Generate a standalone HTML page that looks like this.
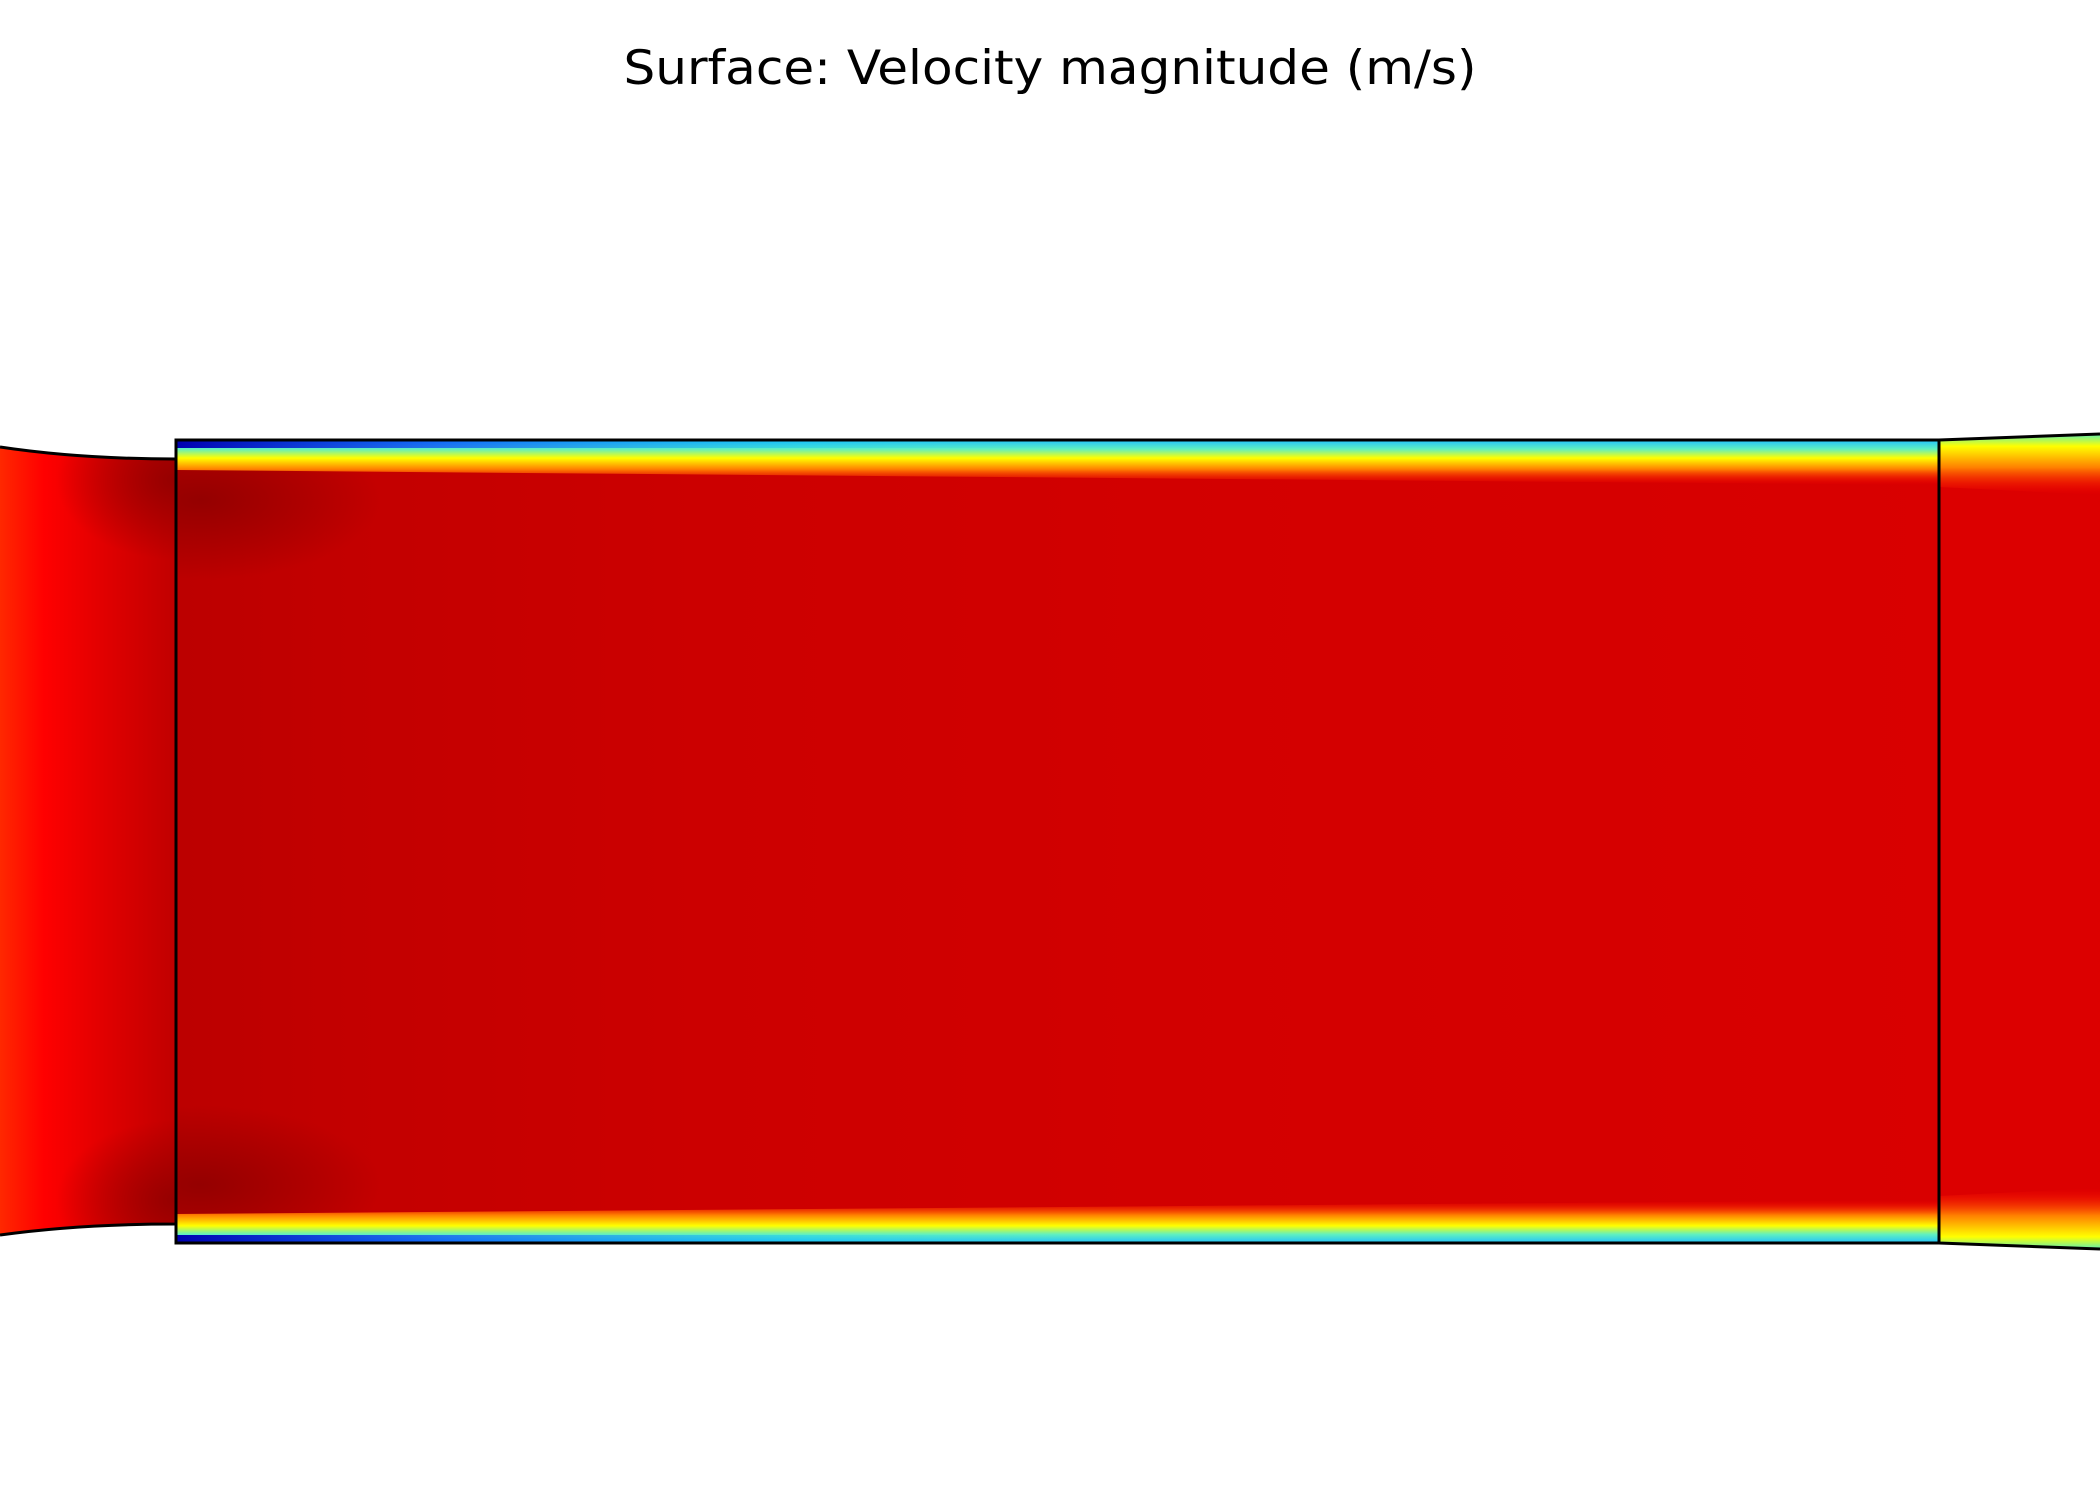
<!DOCTYPE html>
<html><head><meta charset="utf-8"><style>
html,body{margin:0;padding:0;background:#fff;width:2100px;height:1500px;overflow:hidden}
</style></head><body>
<svg width="2100" height="1500" viewBox="0 0 2100 1500" xmlns="http://www.w3.org/2000/svg">
<defs>
  <clipPath id="inletClip"><path d="M0,447 Q80,459 176,459 L176,1224 Q80,1224 0,1235 Z"/></clipPath>
  <clipPath id="mainClip"><rect x="176" y="440" width="1763" height="803"/></clipPath>
  <linearGradient id="mainH" x1="0" y1="0" x2="1" y2="0">
    <stop offset="0" stop-color="#bc0000"/>
    <stop offset="0.1" stop-color="#c30000"/>
    <stop offset="0.3" stop-color="#cc0000"/>
    <stop offset="0.6" stop-color="#d30000"/>
    <stop offset="1" stop-color="#d90000"/>
  </linearGradient>
  <linearGradient id="inletH" x1="0" y1="0" x2="1" y2="0">
    <stop offset="0" stop-color="#ff2800"/>
    <stop offset="0.25" stop-color="#ff0000"/>
    <stop offset="0.6" stop-color="#e00000"/>
    <stop offset="1" stop-color="#c00000"/>
  </linearGradient>
  <linearGradient id="blueFade" x1="0" y1="0" x2="1" y2="0">
    <stop offset="0" stop-color="#0000b0" stop-opacity="1"/>
    <stop offset="0.3" stop-color="#0030ff" stop-opacity="0.6"/>
    <stop offset="0.7" stop-color="#00c0ff" stop-opacity="0.3"/>
    <stop offset="1" stop-color="#40e0d0" stop-opacity="0"/>
  </linearGradient>
  <linearGradient id="topBL" x1="0" y1="0" x2="0" y2="1">
    <stop offset="0" stop-color="#20c0ff"/>
    <stop offset="0.2" stop-color="#60f0c0"/>
    <stop offset="0.4" stop-color="#ffff00"/>
    <stop offset="0.65" stop-color="#ff8000"/>
    <stop offset="1" stop-color="#ff0000" stop-opacity="0"/>
  </linearGradient>
  <linearGradient id="botBL" x1="0" y1="1" x2="0" y2="0">
    <stop offset="0" stop-color="#20c0ff"/>
    <stop offset="0.2" stop-color="#60f0c0"/>
    <stop offset="0.4" stop-color="#ffff00"/>
    <stop offset="0.65" stop-color="#ff8000"/>
    <stop offset="1" stop-color="#ff0000" stop-opacity="0"/>
  </linearGradient>
  <linearGradient id="topOut" x1="0" y1="0" x2="0" y2="1">
    <stop offset="0" stop-color="#60f0b0"/>
    <stop offset="0.2" stop-color="#ffff00"/>
    <stop offset="0.55" stop-color="#ff8000"/>
    <stop offset="1" stop-color="#ff0000" stop-opacity="0"/>
  </linearGradient>
  <linearGradient id="botOut" x1="0" y1="1" x2="0" y2="0">
    <stop offset="0" stop-color="#60f0b0"/>
    <stop offset="0.2" stop-color="#ffff00"/>
    <stop offset="0.55" stop-color="#ff8000"/>
    <stop offset="1" stop-color="#ff0000" stop-opacity="0"/>
  </linearGradient>
  <radialGradient id="darkSpot" cx="0.5" cy="0.5" r="0.5">
    <stop offset="0" stop-color="#900000" stop-opacity="0.9"/>
    <stop offset="1" stop-color="#900000" stop-opacity="0"/>
  </radialGradient>
</defs>

<text x="1050" y="84" text-anchor="middle" font-family="DejaVu Sans, sans-serif" font-size="47" textLength="853" lengthAdjust="spacingAndGlyphs" fill="#000">Surface: Velocity magnitude (m/s)</text>

<g>
  <g clip-path="url(#inletClip)">
    <rect x="0" y="440" width="176" height="800" fill="url(#inletH)"/>
    <ellipse cx="176" cy="480" rx="120" ry="80" fill="url(#darkSpot)"/>
    <ellipse cx="176" cy="1200" rx="120" ry="80" fill="url(#darkSpot)"/>
  </g>
  <path d="M0,447 Q80,459 176,459 L176,1224 Q80,1224 0,1235" fill="none" stroke="#000" stroke-width="3"/>
</g>

<g>
  <g clip-path="url(#mainClip)">
    <rect x="176" y="440" width="1763" height="803" fill="url(#mainH)"/>
    <ellipse cx="200" cy="500" rx="180" ry="80" fill="url(#darkSpot)"/>
    <ellipse cx="200" cy="1185" rx="180" ry="80" fill="url(#darkSpot)"/>
    <path d="M176,440 L1939,440 L1939,485 L176,470 Z" fill="url(#topBL)"/>
    <path d="M176,1243 L1939,1243 L1939,1200 L176,1214 Z" fill="url(#botBL)"/>
    <rect x="176" y="440" width="900" height="8" fill="url(#blueFade)"/>
    <rect x="176" y="1235" width="900" height="8" fill="url(#blueFade)"/>
  </g>
  <rect x="176" y="440" width="1763" height="803" fill="none" stroke="#000" stroke-width="3"/>
</g>

<g>
  <path d="M1939,440 L2100,434 L2100,1249 L1939,1243 Z" fill="#dc0000"/>
  <path d="M1939,440 L2100,434 L2100,495 L1939,487 Z" fill="url(#topOut)"/>
  <path d="M1939,1243 L2100,1249 L2100,1188 L1939,1196 Z" fill="url(#botOut)"/>
  <path d="M1939,440 L2100,434 M1939,1243 L2100,1249 M1939,440 L1939,1243" fill="none" stroke="#000" stroke-width="3"/>
</g>
</svg>
</body></html>
